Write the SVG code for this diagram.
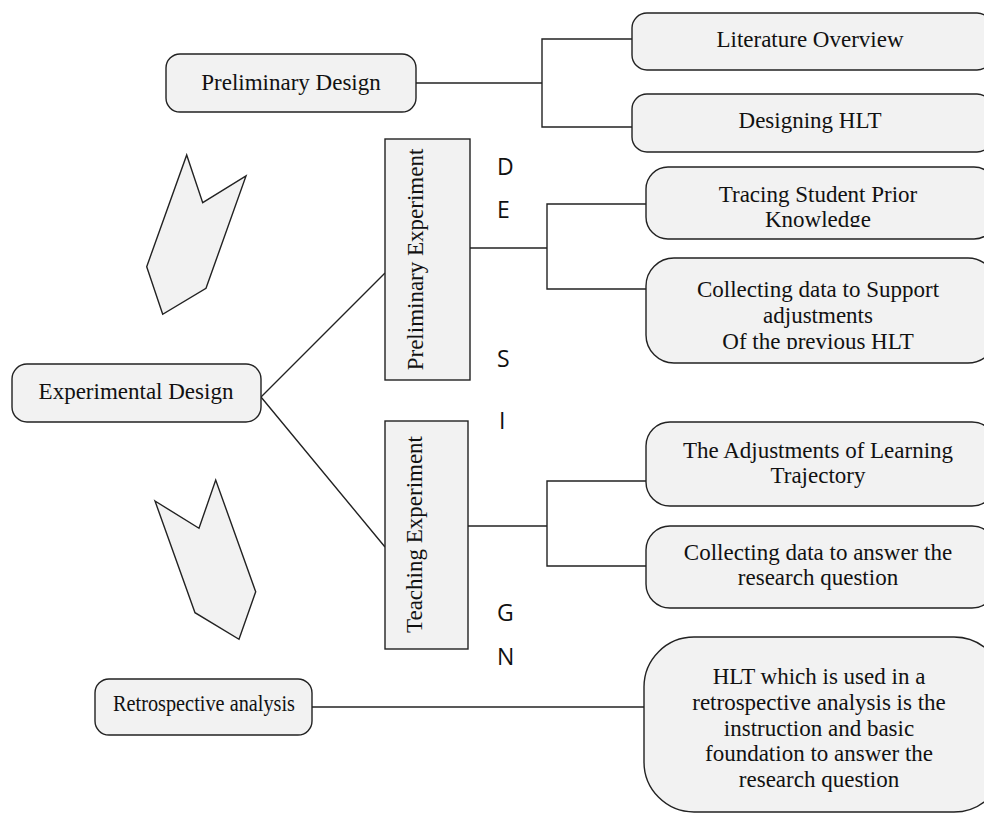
<svg xmlns="http://www.w3.org/2000/svg" width="984" height="817" viewBox="0 0 984 817">
<style>
.box{fill:#f2f2f2;stroke:#222;stroke-width:1.4}
.t{font-family:"Liberation Serif","Times New Roman",serif;font-size:23px;fill:#111;text-anchor:middle}
.l{font-family:"Open Sans","DejaVu Sans",sans-serif;font-size:23px;fill:#111}
.c{fill:none;stroke:#222;stroke-width:1.4}
</style>
<defs>
<clipPath id="clipTr"><rect x="646" y="167" width="338" height="60"/></clipPath>
<clipPath id="clipCo"><rect x="646" y="258" width="338" height="91"/></clipPath>
</defs>
<rect width="984" height="817" fill="#fff"/>
<g id="connectors">
<polyline class="c" points="416,83 542,83"/>
<polyline class="c" points="632,39 542,39 542,127 632,127"/>
<polyline class="c" points="385,273 261,397 385,547"/>
<polyline class="c" points="470,248 547,248"/>
<polyline class="c" points="646,204 547,204 547,289 646,289"/>
<polyline class="c" points="468,526 547,526"/>
<polyline class="c" points="646,481 547,481 547,566 646,566"/>
<polyline class="c" points="312,707 646,707"/>
</g>
<g id="arrow-up"><polygon class="box" points="186.7,155 202.7,202.7 246,176 206,288.3 162.7,314.3 146.7,266.7"/></g>
<g id="arrow-down"><polygon class="box" points="155,501 199,528.3 215.7,480 255.7,591.7 239,639.3 195,612.7"/></g>
<g id="preliminary-design"><rect class="box" x="166" y="54" width="250" height="58" rx="14"/><text class="t" x="291" y="90">Preliminary Design</text></g>
<g id="literature-overview"><rect class="box" x="632" y="13" width="360" height="57" rx="15"/><text class="t" x="810" y="47">Literature Overview</text></g>
<g id="designing-hlt"><rect class="box" x="632" y="94" width="360" height="58" rx="15"/><text class="t" x="810" y="128">Designing HLT</text></g>
<g id="experimental-design"><rect class="box" x="12" y="364" width="249" height="58" rx="15"/><text class="t" x="136" y="399">Experimental Design</text></g>
<g id="preliminary-experiment"><rect class="box" x="385" y="139" width="85" height="241"/><text class="t" transform="translate(423,259.5) rotate(-90)">Preliminary Experiment</text></g>
<g id="teaching-experiment"><rect class="box" x="385" y="421" width="83" height="228"/><text class="t" transform="translate(422,534.5) rotate(-90)">Teaching Experiment</text></g>
<g id="tracing"><rect class="box" x="646" y="167" width="350" height="72" rx="22"/><text class="t" clip-path="url(#clipTr)"><tspan x="818" y="202">Tracing Student Prior</tspan><tspan x="818" y="227">Knowledge</tspan></text></g>
<g id="collecting-support"><rect class="box" x="646" y="258" width="350" height="105" rx="28"/><text class="t" clip-path="url(#clipCo)"><tspan x="818" y="297">Collecting data to Support</tspan><tspan x="818" y="323">adjustments</tspan><tspan x="818" y="349">Of the previous HLT</tspan></text></g>
<g id="adjustments"><rect class="box" x="646" y="422" width="350" height="84" rx="24"/><text class="t"><tspan x="818" y="458">The Adjustments of Learning</tspan><tspan x="818" y="483">Trajectory</tspan></text></g>
<g id="collecting-answer"><rect class="box" x="646" y="526" width="350" height="82" rx="24"/><text class="t"><tspan x="818" y="560">Collecting data to answer the</tspan><tspan x="818" y="585">research question</tspan></text></g>
<g id="retrospective"><rect class="box" x="95" y="679" width="217" height="56" rx="14"/><text class="t" x="204" y="711" textLength="182" lengthAdjust="spacingAndGlyphs">Retrospective analysis</text></g>
<g id="hlt-retro"><rect class="box" x="644" y="637" width="360" height="175" rx="50"/><text class="t"><tspan x="819" y="684">HLT which is used in a</tspan><tspan x="819" y="710">retrospective analysis is the</tspan><tspan x="819" y="736">instruction and basic</tspan><tspan x="819" y="761">foundation to answer the</tspan><tspan x="819" y="787">research question</tspan></text></g>
<g id="design-letters">
<text class="l" x="497" y="175">D</text>
<text class="l" x="497" y="218">E</text>
<text class="l" x="497" y="367">S</text>
<text class="l" x="499" y="429">I</text>
<text class="l" x="497" y="621">G</text>
<text class="l" x="497" y="665">N</text>
</g>
</svg>
